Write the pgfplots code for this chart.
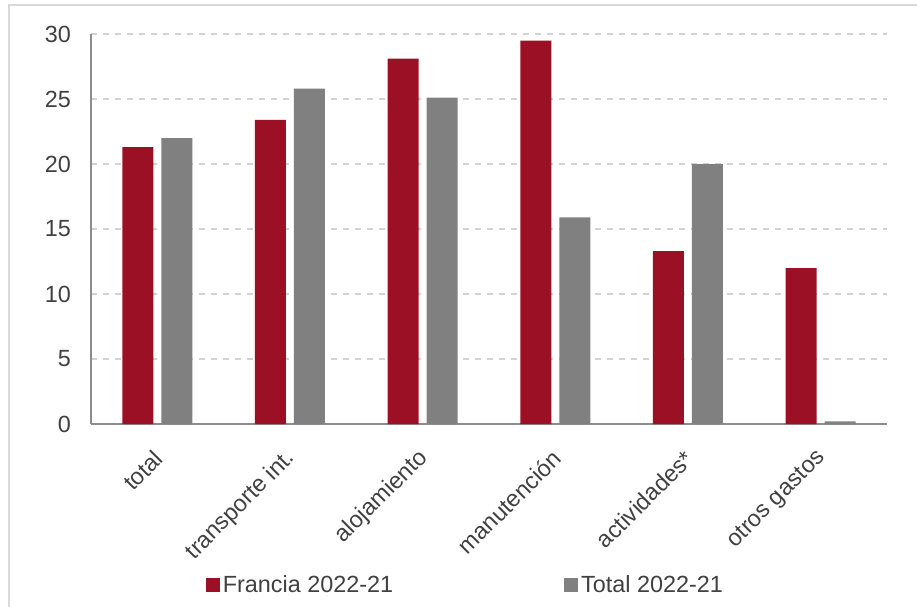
\documentclass[border=0pt]{standalone}
\usepackage{pgfplots}
\pgfplotsset{compat=1.18}
\usepackage{fontspec}
\setmainfont{Liberation Sans}

\definecolor{francia}{RGB}{155,16,37}
\definecolor{totalgr}{RGB}{128,128,128}
\definecolor{txt}{RGB}{64,64,64}
\definecolor{axisgr}{RGB}{140,140,140}
\definecolor{gridgr}{RGB}{210,210,210}
\definecolor{framegr}{RGB}{217,217,217}

\begin{document}
\begin{tikzpicture}[font=\fontsize{11.7}{13}\selectfont]
\begin{axis}[
    at={(0,0)}, anchor=south west,
    scale only axis,
    width=398pt, height=195pt,
    ybar=4pt,
    bar width=15.5pt,
    xmin=-0.5, xmax=5.5,
    ymin=0, ymax=30,
    ytick={0,5,...,30},
    xtick=data,
    xticklabels={total, transporte int., alojamiento, manutención, actividades*, otros gastos},
    axis lines=left,
    axis line style={-, draw=axisgr, line width=0.8pt},
    major tick length=0pt,
    ymajorgrids,
    grid style={dashed, gridgr, line width=0.6pt},
    tick label style={text=txt},
    /pgf/number format/assume math mode=true,
    yticklabel style={xshift=-6.5pt},
    xticklabel style={xshift=1.5pt, yshift=-14.5pt, rotate=45, anchor=east, inner sep=1pt},
    legend style={at={(0.471,-0.413)}, anchor=center, draw=none, fill=none,
        legend columns=2, text=txt,
        nodes={inner xsep=1.5pt},
        /tikz/every even column/.append style={column sep=84pt}},
    legend image code/.code={\fill[#1] (0pt,-3.5pt) rectangle (7pt,3.5pt);},
    legend cell align=left,
]
\addplot[fill=francia, draw=none] coordinates {(0,21.3) (1,23.4) (2,28.1) (3,29.5) (4,13.3) (5,12.0)};
\addplot[fill=totalgr, draw=none] coordinates {(0,22.0) (1,25.8) (2,25.1) (3,15.9) (4,20.0) (5,0.2)};
\legend{Francia 2022-21, Total 2022-21}
\end{axis}
\draw[framegr, line width=1pt] (-41pt,-100pt) -- (-41pt,209.5pt) -- (420pt,209.5pt);
\pgfresetboundingbox
\useasboundingbox (-45.5pt,-91pt) rectangle (413pt,212pt);
\end{tikzpicture}
\end{document}
